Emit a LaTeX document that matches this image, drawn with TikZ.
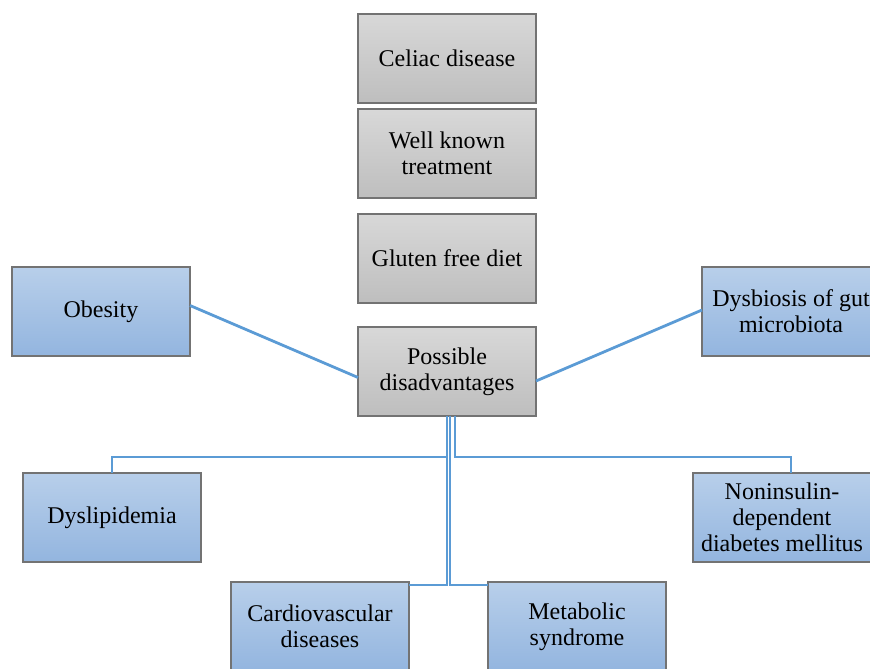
\documentclass[tikz,border=0pt]{standalone}
\usepackage{fontspec}
\setmainfont{Liberation Serif}
\usepackage{tikz}
\usetikzlibrary{positioning}
\definecolor{linkblue}{HTML}{5B9BD5}
\definecolor{greytop}{HTML}{D8D8D8}
\definecolor{greybot}{HTML}{BEBEBE}
\definecolor{bluetop}{HTML}{B8CFEA}
\definecolor{bluebot}{HTML}{93B5DF}

\begin{document}
\begin{tikzpicture}[x=0.5pt, y=-0.5pt, node distance=3pt, font=\fontsize{12}{13}\selectfont]
    % Define styles
    \tikzstyle{greybox} = [rectangle, minimum width=89pt, minimum height=44.5pt, outer sep=0pt, align=center, draw=black!55, line width=0.6pt, top color=greytop, bottom color=greybot]
    \tikzstyle{bluebox} = [rectangle, minimum width=89pt, minimum height=44.5pt, outer sep=0pt, align=center, draw=black!55, line width=0.6pt, top color=bluetop, bottom color=bluebot]
    \tikzstyle{link} = [draw=linkblue, line width=1.4pt]

    \useasboundingbox (0,0) rectangle (870,668);
    \clip (0,0) rectangle (870,668);

    % Nodes
    \node[greybox] (celiac) at (447,58.5) {Celiac disease};
    \node[greybox, below=of celiac] (treatment) {Well known\\treatment};
    \node[greybox, below=8pt of treatment] (gluten) {Gluten free diet};
    \node[greybox, below=12pt of gluten] (possible) {Possible\\disadvantages};
    \node[bluebox, left=84pt of gluten, yshift=-26.5pt] (obesity) {Obesity};
    \node[bluebox, right=83pt of gluten, yshift=-26.5pt] (dysbiosis) {Dysbiosis of gut\\microbiota};
    \node[bluebox, below=28.5pt of possible, xshift=-167.5pt] (dyslipidemia) {Dyslipidemia};
    \node[bluebox, below=28.5pt of possible, xshift=167.5pt] (niddm) {Noninsulin-\\dependent\\diabetes mellitus};
    \node[bluebox, below=83pt of possible, xshift=-63.5pt] (cardio) {Cardiovascular\\diseases};
    \node[bluebox, right=39.5pt of cardio] (metabolic) {Metabolic\\syndrome};

    % Connections
    \draw[link] ([yshift=3pt]obesity.east) -- ([yshift=-3pt]possible.west);
    \draw[link] ([yshift=0.75pt]dysbiosis.west) -- ([yshift=-4.75pt]possible.east);
    \draw[link] (possible.south) -- ++(0,41) -| (dyslipidemia.north);
    \draw[link] ([xshift=4pt]possible.south) -- ++(0,41) -| ([xshift=4.5pt]niddm.north);
    \draw[link] (possible.south) |- ([yshift=-1.5pt]cardio.north east);
    \draw[link] ([xshift=1.5pt]possible.south) |- ([yshift=-1.5pt]metabolic.north west);
\end{tikzpicture}
\end{document}
